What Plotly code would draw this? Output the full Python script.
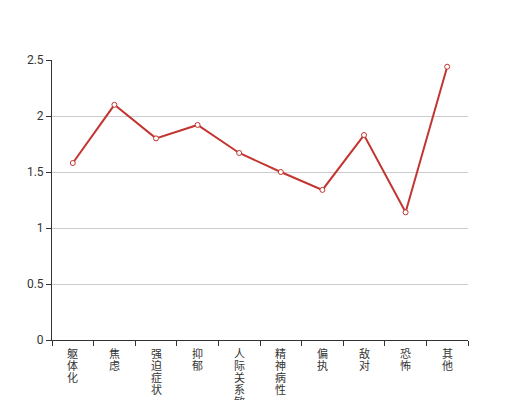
import plotly.graph_objects as go

categories = ["躯体化", "焦虑", "强迫症状", "抑郁", "人际关系敏感", "精神病性", "偏执", "敌对", "恐怖", "其他"]
values = [1.58, 2.10, 1.80, 1.92, 1.67, 1.50, 1.34, 1.83, 1.14, 2.44]
y_ticks = [0, 0.5, 1, 1.5, 2, 2.5]
y_tick_labels = ["0", "0.5", "1", "1.5", "2", "2.5"]

font_family = "Noto Sans CJK SC, sans-serif"

fig = go.Figure()
fig.add_trace(go.Scatter(
    x=categories, y=values, mode="lines+markers",
    line=dict(color="#c23531", width=2),
    marker=dict(symbol="circle", size=5, color="white", line=dict(color="#c23531", width=1)),
    cliponaxis=False,
))

# vertical category labels, one character per line (tight line spacing)
annotations = []
for cat in categories:
    for i, ch in enumerate(cat):
        annotations.append(dict(
            x=cat, xref="x", y=0, yref="paper", yanchor="top", xanchor="center",
            yshift=-(4 + i * 12), text=ch, showarrow=False, borderpad=0,
            font=dict(size=11, color="#333", family=font_family),
        ))

# page body adds an 8px offset, so the figure is sized 512x392
fig.update_layout(
    width=512, height=392,
    margin=dict(l=44, r=52, t=52, b=60),
    paper_bgcolor="white", plot_bgcolor="white",
    showlegend=False,
    font=dict(family=font_family, size=12, color="#333"),
    annotations=annotations,
    xaxis=dict(
        type="category", tickmode="array", tickvals=categories, ticktext=[""] * len(categories),
        tickson="boundaries", ticks="outside", ticklen=5, tickcolor="#333",
        showline=True, linecolor="#333", linewidth=1, showgrid=False,
        automargin=False,
        range=[-0.5, len(categories) - 0.5],
    ),
    yaxis=dict(
        range=[0, 2.5], tickmode="array", tickvals=y_ticks, ticktext=y_tick_labels,
        ticks="outside", ticklen=5, tickcolor="#333",
        showline=True, linecolor="#333", linewidth=1,
        showgrid=True, gridcolor="#ccc", gridwidth=1, zeroline=False,
        automargin=False,
        tickfont=dict(size=12, color="#333", family="Roboto, sans-serif"),
    ),
)

fig.write_html("out.html")
